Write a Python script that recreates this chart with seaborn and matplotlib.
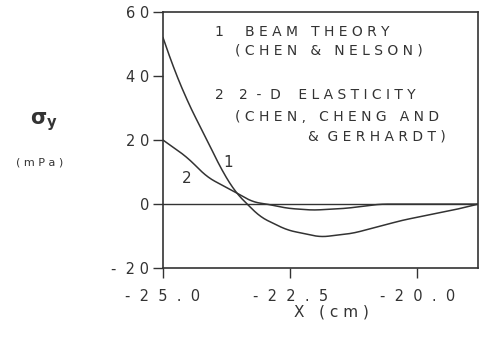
import matplotlib
matplotlib.use("Agg")
import matplotlib.pyplot as plt
import numpy as np
import pandas as pd
import seaborn as sns

# curve 1: beam theory (Chen & Nelson)
x_beam = [-25.0, -24.8, -24.53, -24.33, -24.13, -23.88, -23.58, -23.09, -22.56, -21.9, -21.26, -20.28, -19.3, -18.8]
y_beam = [52.0, 42.8, 32.5, 26.0, 20.0, 11.6, 3.75, -4.0, -8.1, -10.3, -9.1, -5.0, -1.9, 0.0]

# curve 2: 2-D elasticity (Chen, Cheng and Gerhardt)
x_elas = [-25.0, -24.53, -24.13, -23.58, -23.23, -22.95, -22.56, -22.05, -21.38, -20.73, -19.8, -18.8]
y_elas = [20.0, 14.7, 8.4, 3.75, 0.6, 0.0, -1.3, -1.9, -1.3, 0.0, 0.0, 0.0]

x_ticks = [-25.0, -22.5, -20.0]
x_tick_labels = ["-  2  5  .  0", "-  2  2  .  5", "-  2  0  .  0"]
y_ticks = [-20, 0, 20, 40, 60]
y_tick_labels = ["-  2 0", "0", "2 0", "4 0", "6 0"]

sns.set_style("ticks")
plt.rcParams["font.family"] = ["DejaVu Sans"]

df = pd.concat([
    pd.DataFrame({"x": x_beam, "sigma": y_beam, "curve": "1"}),
    pd.DataFrame({"x": x_elas, "sigma": y_elas, "curve": "2"}),
])

fig = plt.figure(figsize=(4.88, 3.51), dpi=100)
ax = fig.add_axes([0.334, 0.236, 0.646, 0.730])

ink = "#333333"
for name, grp in df.groupby("curve"):
    xs = np.linspace(grp["x"].min(), grp["x"].max(), 300)
    ys = np.interp(xs, grp["x"], grp["sigma"])
    k = 15
    padded = np.pad(ys, k // 2, mode="reflect", reflect_type="odd")
    ys_s = np.convolve(padded, np.ones(k) / k, mode="valid")
    sns.lineplot(x=xs, y=ys_s, ax=ax, color=ink, linewidth=1.1, legend=False)

ax.axhline(0, color=ink, linewidth=1.0)

ax.set_xlim(-25.0, -18.8)
ax.set_ylim(-20, 60)
ax.set_xticks(x_ticks)
ax.set_xticklabels(x_tick_labels, fontsize=10.5, color=ink)
ax.set_yticks(y_ticks)
ax.set_yticklabels(y_tick_labels, fontsize=10.5, color=ink)
ax.tick_params(axis="x", direction="out", length=7, width=1.0, colors=ink, pad=8)
ax.tick_params(axis="y", direction="out", length=7, width=1.0, colors=ink, pad=3)
for s in ax.spines.values():
    s.set_color(ink)
    s.set_linewidth(1.2)

txt = dict(fontsize=10, color=ink, va="center", ha="left")
ax.text(-23.98, 53.7, "1", **txt)
ax.text(-23.39, 53.7, "B E A M   T H E O R Y", **txt)
ax.text(-23.58, 48.0, "( C H E N   &   N E L S O N )", **txt)
ax.text(-23.98, 34.0, "2", **txt)
ax.text(-23.5, 34.0, "2  -  D    E L A S T I C I T Y", **txt)
ax.text(-23.58, 27.3, "( C H E N ,   C H E N G   A N D", **txt)
ax.text(-22.15, 21.0, "&  G E R H A R D T )", **txt)
ax.text(-23.72, 13.1, "1", fontsize=11, color=ink, ha="center", va="center")
ax.text(-24.53, 8.1, "2", fontsize=11, color=ink, ha="center", va="center")

fig.text(0.062, 0.645, r"$\mathbf{\sigma}_\mathbf{y}$", fontsize=15, color=ink)
fig.text(0.082, 0.538, "( m P a )", fontsize=8, color=ink, ha="center", va="center")
fig.text(0.68, 0.11, "X   ( c m )", fontsize=11, color=ink, ha="center", va="center")

fig.savefig("out.png", dpi=100)
